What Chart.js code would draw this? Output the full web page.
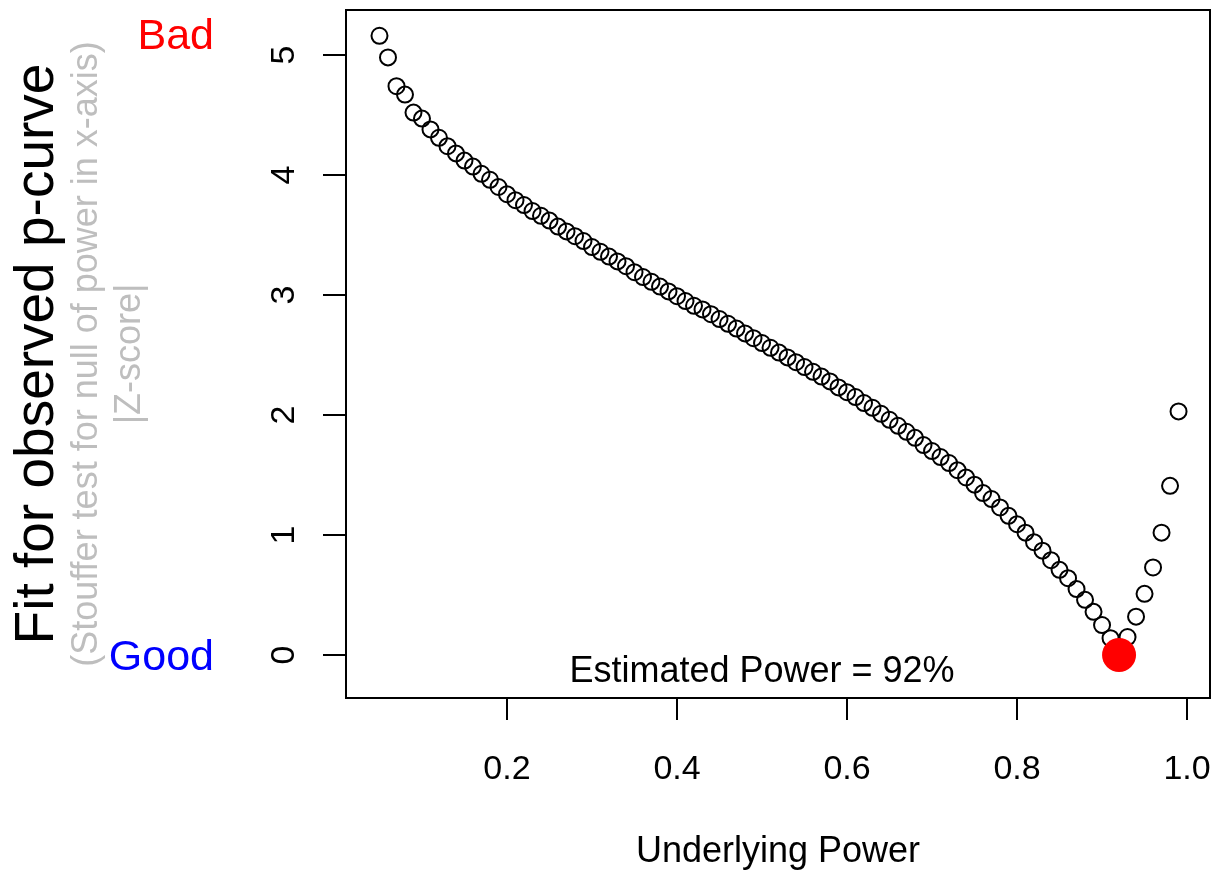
<!DOCTYPE html>
<html>
<head>
<meta charset="utf-8">
<title>p-curve power fit</title>
<script src="https://cdn.jsdelivr.net/npm/chart.js@4.4.1/dist/chart.umd.min.js"></script>
<style>
  html, body { margin: 0; padding: 0; background: #fff; }
  canvas { display: block; }
</style>
</head>
<body>
<canvas id="fitChart" width="1220" height="872"></canvas>
<script>
// underlying power grid (x) and |Z| of the Stouffer test at each power (y)
const powerGrid = [
  0.05, 0.06, 0.07, 0.08, 0.09, 0.10, 0.11, 0.12, 0.13, 0.14,
  0.15, 0.16, 0.17, 0.18, 0.19, 0.20, 0.21, 0.22, 0.23, 0.24,
  0.25, 0.26, 0.27, 0.28, 0.29, 0.30, 0.31, 0.32, 0.33, 0.34,
  0.35, 0.36, 0.37, 0.38, 0.39, 0.40, 0.41, 0.42, 0.43, 0.44,
  0.45, 0.46, 0.47, 0.48, 0.49, 0.50, 0.51, 0.52, 0.53, 0.54,
  0.55, 0.56, 0.57, 0.58, 0.59, 0.60, 0.61, 0.62, 0.63, 0.64,
  0.65, 0.66, 0.67, 0.68, 0.69, 0.70, 0.71, 0.72, 0.73, 0.74,
  0.75, 0.76, 0.77, 0.78, 0.79, 0.80, 0.81, 0.82, 0.83, 0.84,
  0.85, 0.86, 0.87, 0.88, 0.89, 0.90, 0.91, 0.92, 0.93, 0.94,
  0.95, 0.96, 0.97, 0.98, 0.99
];
const fitZ = [
  5.16, 4.98, 4.74, 4.67, 4.52, 4.47, 4.38, 4.31, 4.24, 4.18,
  4.12, 4.07, 4.01, 3.96, 3.90, 3.84, 3.79, 3.75, 3.70, 3.66,
  3.62, 3.57, 3.53, 3.49, 3.45, 3.40, 3.36, 3.32, 3.28, 3.24,
  3.19, 3.15, 3.11, 3.07, 3.03, 2.99, 2.95, 2.91, 2.88, 2.84,
  2.80, 2.76, 2.72, 2.68, 2.64, 2.60, 2.56, 2.52, 2.48, 2.44,
  2.40, 2.36, 2.32, 2.28, 2.23, 2.19, 2.15, 2.10, 2.06, 2.01,
  1.96, 1.91, 1.86, 1.81, 1.75, 1.70, 1.65, 1.60, 1.54, 1.48,
  1.42, 1.35, 1.30, 1.23, 1.16, 1.09, 1.02, 0.94, 0.87, 0.79,
  0.71, 0.64, 0.55, 0.46, 0.36, 0.25, 0.14, 0.02, 0.15, 0.32,
  0.51, 0.73, 1.02, 1.41, 2.03
];

// best fitting power
const estPower = 0.92;
const estFit = 0;

const xTickValues = [0.2, 0.4, 0.6, 0.8, 1.0];
const yTickValues = [0, 1, 2, 3, 4, 5];

const FONT = "'Liberation Sans', Arial, Helvetica, sans-serif";

// R-like extras: box, rotated y labels, titles in the margin
const marginText = {
  id: "marginText",
  afterDraw(chart) {
    const { ctx, chartArea, scales } = chart;
    const xs = scales.x, ys = scales.y;
    const midY = (chartArea.top + chartArea.bottom) / 2;

    ctx.save();
    ctx.strokeStyle = "#000";
    ctx.lineWidth = 2;
    ctx.strokeRect(chartArea.left, chartArea.top, chartArea.right - chartArea.left, chartArea.bottom - chartArea.top);

    // y tick labels, parallel to the axis
    ctx.fillStyle = "#000";
    ctx.font = "34px " + FONT;
    ctx.textAlign = "center";
    ctx.textBaseline = "alphabetic";
    yTickValues.forEach((v) => {
      ctx.save();
      ctx.translate(294, ys.getPixelForValue(v));
      ctx.rotate(-Math.PI / 2);
      ctx.fillText(String(v), 0, 0);
      ctx.restore();
    });

    const vText = (text, x, size, color) => {
      ctx.save();
      ctx.translate(x, midY);
      ctx.rotate(-Math.PI / 2);
      ctx.font = size + "px " + FONT;
      ctx.fillStyle = color;
      ctx.fillText(text, 0, 0);
      ctx.restore();
    };
    vText("Fit for observed p-curve", 53, 55, "#000");
    vText("(Stouffer test for null of power in x-axis)", 97, 36, "#bebebe");
    vText("|Z-score|", 140, 36, "#bebebe");

    ctx.font = "43px " + FONT;
    ctx.textAlign = "right";
    ctx.textBaseline = "middle";
    ctx.fillStyle = "red";
    ctx.fillText("Bad", 214, ys.getPixelForValue(5.15));
    ctx.fillStyle = "blue";
    ctx.fillText("Good", 214, ys.getPixelForValue(0) + 3);

    ctx.font = "36px " + FONT;
    ctx.textAlign = "center";
    ctx.fillStyle = "#000";
    ctx.fillText("Estimated Power = " + Math.round(estPower * 100) + "%", xs.getPixelForValue(0.5), ys.getPixelForValue(-0.146));
    ctx.restore();
  },
};

const ctx = document.getElementById("fitChart").getContext("2d");
new Chart(ctx, {
  type: "scatter",
  plugins: [marginText],
  data: {
    datasets: [
      {
        label: "estimate",
        data: [{ x: estPower, y: estFit }],
        pointRadius: 17,
        pointBackgroundColor: "red",
        pointBorderColor: "red",
        pointBorderWidth: 0,
        order: 0,
      },
      {
        label: "fit",
        data: powerGrid.map((p, i) => ({ x: p, y: fitZ[i] })),
        pointRadius: 8,
        pointBackgroundColor: "rgba(0,0,0,0)",
        pointBorderColor: "#000",
        pointBorderWidth: 2,
        order: 1,
      },
    ],
  },
  options: {
    responsive: false,
    animation: false,
    layout: { autoPadding: false, padding: { top: 10, right: 10, left: 0, bottom: 0 } },
    plugins: {
      legend: { display: false },
      tooltip: { enabled: false },
    },
    scales: {
      x: {
        type: "linear",
        position: "bottom",
        min: 0.0106,
        max: 1.027,
        afterBuildTicks: (scale) => {
          scale.ticks = xTickValues.map((v) => ({ value: v }));
        },
        afterFit: (scale) => {
          scale.height = 174;
          scale.paddingLeft = 0;
          scale.paddingRight = 0;
        },
        grid: {
          drawOnChartArea: false,
          drawTicks: true,
          tickLength: 22,
          color: "#000",
          lineWidth: 2,
        },
        border: { display: true, color: "#000", width: 2 },
        ticks: {
          color: "#000",
          padding: 29,
          maxRotation: 0,
          font: { family: FONT, size: 34 },
          callback: (v) => Number(v).toFixed(1),
        },
        title: {
          display: true,
          text: "Underlying Power",
          color: "#000",
          padding: { top: 0, bottom: -2 },
          font: { family: FONT, size: 36 },
        },
      },
      y: {
        type: "linear",
        min: -0.358,
        max: 5.375,
        afterBuildTicks: (scale) => {
          scale.ticks = yTickValues.map((v) => ({ value: v }));
        },
        afterFit: (scale) => {
          scale.width = 346;
          scale.paddingTop = 0;
          scale.paddingBottom = 0;
        },
        grid: {
          drawOnChartArea: false,
          drawTicks: true,
          tickLength: 23,
          color: "#000",
          lineWidth: 2,
        },
        border: { display: true, color: "#000", width: 2 },
        ticks: { display: false },
      },
    },
  },
});
</script>
</body>
</html>
